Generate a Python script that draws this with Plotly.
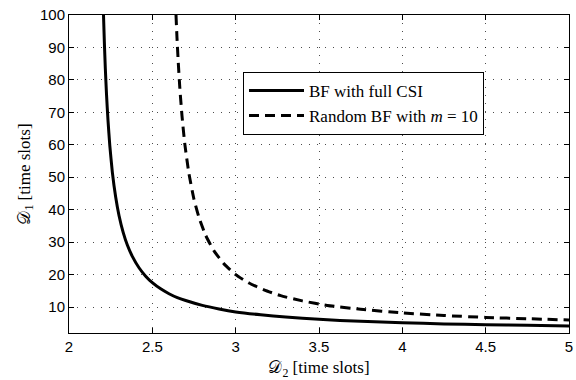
import plotly.graph_objects as go

# BF with full CSI (solid)
full_csi_d2 = [2.207, 2.212, 2.218, 2.225, 2.234, 2.245, 2.26, 2.28, 2.30, 2.325, 2.35,
               2.38, 2.42, 2.46, 2.5, 2.55, 2.6, 2.65, 2.7, 2.8, 2.9, 3.0, 3.15,
               3.3, 3.5, 3.75, 4.0, 4.25, 4.5, 4.75, 5.0]
full_csi_d1 = [100, 91.8, 83.5, 75.6, 67.5, 59.7, 51.6, 43.9, 38.2, 33.0, 29.1,
               25.6, 22.1, 19.5, 17.5, 15.6, 14.1, 12.9, 12.0, 10.5, 9.4, 8.5, 7.6,
               6.9, 6.2, 5.6, 5.16, 4.8, 4.55, 4.35, 4.15]

# Random BF with m = 10 (dashed)
random_bf_d2 = [2.642, 2.648, 2.655, 2.665, 2.678, 2.695, 2.72, 2.75, 2.78, 2.82, 2.87,
                2.93, 3.0, 3.08, 3.17, 3.27, 3.4, 3.55, 3.75, 4.0, 4.25, 4.5, 4.75, 5.0]
random_bf_d1 = [100, 92.9, 85.9, 77.5, 68.9, 60.2, 51.0, 43.2, 37.6, 32.1, 27.3,
                23.3, 20.0, 17.4, 15.3, 13.5, 11.9, 10.5, 9.3, 8.2, 7.4, 6.8, 6.4, 6.0]

x_ticks = [2, 2.5, 3, 3.5, 4, 4.5, 5]
x_tick_labels = ["2", "2.5", "3", "3.5", "4", "4.5", "5"]
y_ticks = [10, 20, 30, 40, 50, 60, 70, 80, 90, 100]
y_tick_labels = ["10", "20", "30", "40", "50", "60", "70", "80", "90", "100"]

serif = "Liberation Serif, DejaVu Serif, serif"
sans = "Liberation Sans, Arial, sans-serif"

fig = go.Figure()
fig.add_trace(go.Scatter(
    x=full_csi_d2, y=full_csi_d1, mode="lines", name="BF with full CSI",
    legendgroup="a",
    line=dict(color="black", width=3, shape="spline", smoothing=0.5),
))
fig.add_trace(go.Scatter(
    x=random_bf_d2, y=random_bf_d1, mode="lines",
    name="Random BF with <i>m</i> = 10", legendgroup="b",
    line=dict(color="black", width=3, dash="10px,6px", shape="spline", smoothing=0.5),
))

axis_common = dict(
    showline=True, linecolor="black", linewidth=1, mirror="ticks",
    ticks="inside", ticklen=5, tickcolor="black", tickwidth=1,
    showgrid=True, gridcolor="rgba(0,0,0,0.7)", griddash="1px,7px", gridwidth=1,
    zeroline=False, tickfont=dict(family=sans, size=15, color="black"),
    automargin=False, ticklabeloverflow="allow",
)

fig.update_xaxes(
    range=[2, 5], tickvals=x_ticks, ticktext=x_tick_labels,
    title=dict(text="𝒟<sub>2</sub> [time slots]", font=dict(family=serif, size=17, color="black")),
    **axis_common,
)
fig.update_yaxes(
    range=[2, 100], tickvals=y_ticks, ticktext=y_tick_labels,
    title=dict(text="𝒟<sub>1</sub> [time slots]", font=dict(family=serif, size=17, color="black"),
               standoff=5),
    **axis_common,
)

fig.update_layout(
    width=576, height=380,
    margin=dict(l=69, r=7, t=15, b=47),
    plot_bgcolor="white", paper_bgcolor="white",
    showlegend=True,
    legend=dict(
        x=0.348, y=0.821, xanchor="left", yanchor="top",
        bgcolor="white", bordercolor="black", borderwidth=1,
        font=dict(family=serif, size=17, color="black"),
        itemwidth=55, tracegroupgap=0,
    ),
)

fig.write_html("out.html", config={"displayModeBar": False},
               post_script="document.body.style.margin='0px';")
